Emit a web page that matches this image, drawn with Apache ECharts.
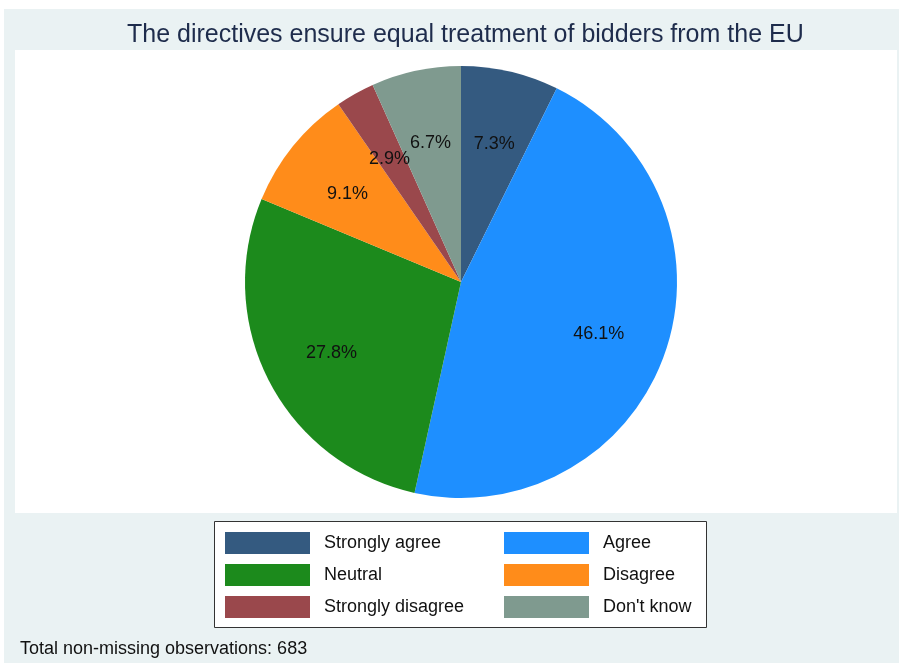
<!DOCTYPE html>
<html>
<head>
<meta charset="utf-8">
<script src="https://cdn.jsdelivr.net/npm/echarts@6/dist/echarts.min.js"></script>
<style>html,body{margin:0;padding:0;background:#fff}#c{width:899px;height:663px}</style>
</head>
<body>
<div id="c"></div>
<script>
const categories = ['Strongly agree', 'Agree', 'Neutral', 'Disagree', 'Strongly disagree', "Don't know"];
const percents = [7.3, 46.1, 27.8, 9.1, 2.9, 6.7];
const colors = ['#345a80', '#1e8fff', '#1c8a1c', '#ff8c1a', '#9a484c', '#7f9a8f'];
const titleText = 'The directives ensure equal treatment of bidders from the EU';
const noteText = 'Total non-missing observations: 683';
const legendCol1 = ['Strongly agree', 'Neutral', 'Strongly disagree'];
const legendCol2 = ['Agree', 'Disagree', "Don't know"];

const FONT = '"Liberation Sans", Arial, sans-serif';
const chart = echarts.init(document.getElementById('c'), null, {renderer: 'canvas'});
const data = categories.map((n, i) => ({name: n, value: percents[i], itemStyle: {color: colors[i]}}));
const legendCommon = {
  orient: 'vertical', itemWidth: 85, itemHeight: 22, itemGap: 10, padding: 0,
  icon: 'rect', selectedMode: false,
  textStyle: {fontSize: 18, color: '#111', fontFamily: FONT, padding: [0, 0, 0, 9]}
};
chart.setOption({
  backgroundColor: '#ffffff',
  animation: false,
  graphic: [
    {type: 'rect', z: -10, shape: {x: 4, y: 9, width: 895, height: 654}, style: {fill: '#eaf2f3'}},
    {type: 'rect', z: -9, shape: {x: 15, y: 50, width: 882, height: 463}, style: {fill: '#ffffff'}},
    {type: 'rect', z: -8, shape: {x: 214.5, y: 521.5, width: 492, height: 106}, style: {fill: '#ffffff', stroke: '#333', lineWidth: 1}},
    {type: 'text', left: 20, top: 640, style: {text: noteText, fontSize: 18, fill: '#111', fontFamily: FONT}}
  ],
  title: {
    text: titleText, left: 122, top: 18,
    textStyle: {fontSize: 25, fontWeight: 'normal', color: '#1e2c4c', fontFamily: FONT}
  },
  legend: [
    Object.assign({}, legendCommon, {data: legendCol1, left: 225, top: 532}),
    Object.assign({}, legendCommon, {data: legendCol2, left: 504, top: 532})
  ],
  series: [
    {
      type: 'pie', center: [461, 282], radius: [0, 216], startAngle: 90, clockwise: true,
      silent: true, label: {show: false}, labelLine: {show: false},
      itemStyle: {borderWidth: 0}, data: data
    },
    {
      type: 'pie', center: [461, 282], radius: [70, 216], startAngle: 90, clockwise: true,
      silent: true, legendHoverLink: false,
      itemStyle: {color: 'rgba(0,0,0,0)', borderWidth: 0},
      label: {show: true, position: 'inside', offset: [0, 4], formatter: p => p.value.toFixed(1) + '%', fontSize: 18, color: '#111', fontFamily: FONT},
      labelLine: {show: false},
      data: categories.map((n, i) => ({name: n + ' ', value: percents[i]}))
    }
  ]
});
</script>
</body>
</html>
